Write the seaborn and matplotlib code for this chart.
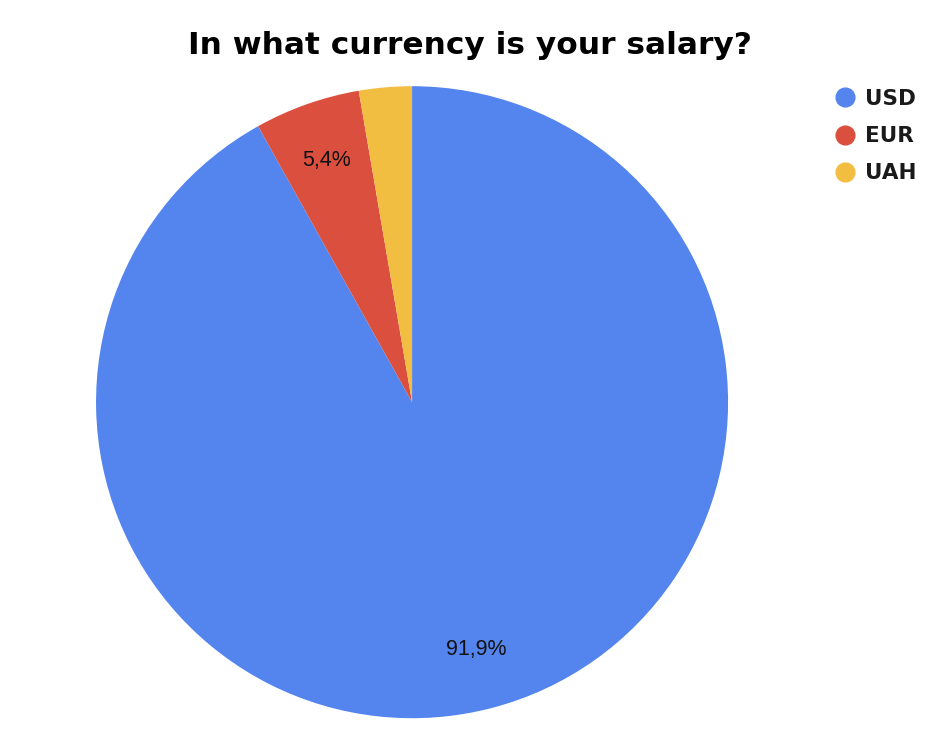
import matplotlib
matplotlib.use("Agg")
import matplotlib.pyplot as plt
from matplotlib.lines import Line2D
import seaborn as sns

# survey answers
currencies = ["USD", "EUR", "UAH"]
shares = [91.9, 5.4, 2.7]
colors = ["#5484ED", "#DB4F3F", "#F2BE42"]

sns.set_theme(style="white")
plt.rcParams["font.family"] = ["DejaVu Sans"]

fig = plt.figure(figsize=(9.5, 7.56), dpi=100)
ax = fig.add_axes([0.1011, 0.050, 0.6653, 0.836])


def fmt_pct(p):
    # hide labels for tiny slices, comma decimal separator
    if p < 4:
        return ""
    return f"{p:.1f}%".replace(".", ",")


wedges, texts, autotexts = ax.pie(
    shares,
    colors=colors,
    startangle=90,
    counterclock=False,
    autopct=fmt_pct,
    pctdistance=0.81,
    wedgeprops=dict(linewidth=0),
    textprops=dict(fontsize=15.5, color="#111111", family="Liberation Sans"),
)
ax.set_aspect("equal")
ax.set_xlim(-1, 1)
ax.set_ylim(-1, 1)
ax.axis("off")

fig.text(0.495, 0.940, "In what currency is your salary?", ha="center", va="center",
         fontsize=22.5, fontweight="heavy", color="black")

handles = [Line2D([0], [0], marker="o", linestyle="", markersize=13.5,
                  markerfacecolor=c, markeredgecolor=c) for c in colors]
leg = fig.legend(handles, currencies, loc="upper left", bbox_to_anchor=(0.855, 0.908),
                 frameon=False, handletextpad=0.35, labelspacing=0.8,
                 prop=dict(size=15.5, weight="bold"), handlelength=1.2)
for t in leg.get_texts():
    t.set_color("#1a1a1a")

fig.savefig("out.png", dpi=100, facecolor="white")
